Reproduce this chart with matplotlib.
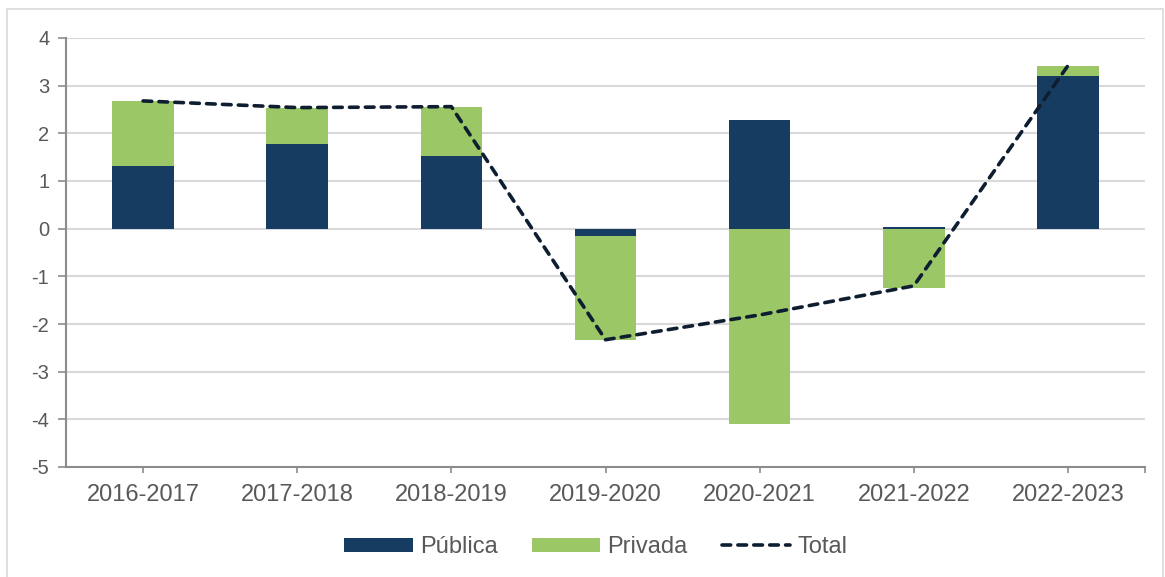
import matplotlib.pyplot as plt
import numpy as np
from matplotlib.patches import Rectangle

plt.rcParams["font.family"] = ["Liberation Sans", "DejaVu Sans"]
plt.rcParams["axes.unicode_minus"] = False

periodos = ["2016-2017", "2017-2018", "2018-2019", "2019-2020",
            "2020-2021", "2021-2022", "2022-2023"]
publica = [1.32, 1.78, 1.52, -0.16, 2.28, 0.03, 3.21]
privada = [1.36, 0.76, 1.04, -2.17, -4.09, -1.24, 0.21]
total = [2.68, 2.54, 2.56, -2.33, -1.81, -1.20, 3.42]

c_pub = "#173C61"
c_priv = "#9BC766"
c_total = "#0E1E30"
c_text = "#595959"
c_axis = "#8C8C8C"

fig = plt.figure(figsize=(11.65, 5.77), dpi=100)
ax = fig.add_axes([66 / 1165, 110 / 577, (1145 - 66) / 1165, (467 - 38) / 577])

# chart area border
fig.patches.append(Rectangle((7 / 1165, -0.01), 1156 / 1165, (568 + 6) / 577,
                             transform=fig.transFigure, fill=False,
                             edgecolor="#D9D9D9", linewidth=1.2, zorder=0))

x = np.arange(len(periodos))
pub = np.array(publica)
priv = np.array(privada)
base = np.where(np.sign(pub) == np.sign(priv), pub, 0)

b1 = ax.bar(x, pub, width=0.4, color=c_pub, label="Pública", zorder=2)
b2 = ax.bar(x, priv, width=0.4, bottom=base, color=c_priv, label="Privada", zorder=2)
l1, = ax.plot(x, total, color=c_total, linewidth=2.6, dashes=(2.4, 2.0),
              dash_capstyle="round", label="Total", zorder=3)

ax.set_xlim(-0.5, 6.5)
ax.set_ylim(-5, 4)
ax.set_yticks(range(-5, 5))
ax.yaxis.grid(True, color="#D9D9D9", linewidth=1.5, zorder=0)
ax.set_axisbelow(True)

ax.set_xticks(list(x) + [6.5])
ax.set_xticklabels(periodos + [""])

for s in ["top", "right"]:
    ax.spines[s].set_visible(False)
for s in ["left", "bottom"]:
    ax.spines[s].set_color(c_axis)
    ax.spines[s].set_linewidth(1.5)

ax.tick_params(axis="y", direction="out", length=6, width=1.2, color=c_axis,
               labelsize=14.5, labelcolor=c_text, pad=6)
ax.tick_params(axis="x", direction="out", length=4, width=1.2, color=c_axis,
               labelsize=17, labelcolor=c_text, pad=8)

fig.legend([b1, b2, l1], ["Pública", "Privada", "Total"],
           loc="center", bbox_to_anchor=(596 / 1165, 1 - 547 / 577), ncol=3,
           frameon=False, fontsize=17, handlelength=2.9, handleheight=0.54,
           handletextpad=0.3, columnspacing=1.45, labelcolor=c_text)

plt.savefig("out.png", dpi=100)
